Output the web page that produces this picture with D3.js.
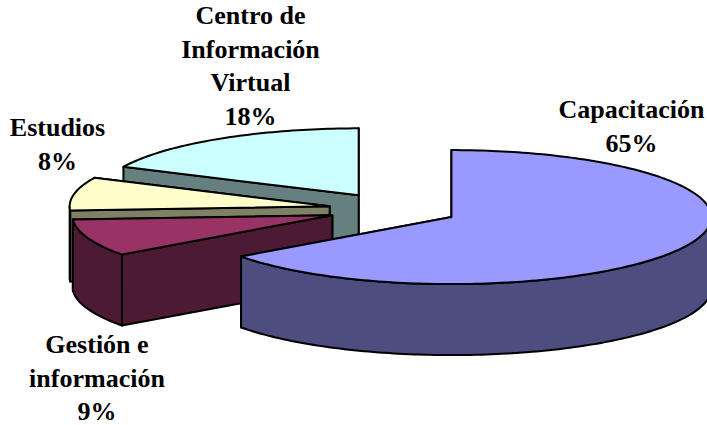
<!DOCTYPE html>
<html>
<head>
<meta charset="utf-8">
<script src="https://cdn.jsdelivr.net/npm/d3@7"></script>
<style>
  html, body { margin: 0; padding: 0; background: #fff; overflow: hidden; }
  text { font-family: "Liberation Serif", serif; font-weight: bold; font-size: 26px; fill: #000; }
</style>
</head>
<body>
<div id="chart"></div>
<script>
// --- Data
const categories = ["Capacitación", "Gestión e información", "Estudios", "Centro de Información Virtual"];
const shares = [65, 9, 8, 18];
const topColors = ["#9999ff", "#993366", "#ffffcc", "#ccffff"];
const sideColors = ["#4d4d80", "#4d1a33", "#808066", "#668080"];
const labelLines = [
  ["Capacitación"],
  ["Gestión e", "información"],
  ["Estudios"],
  ["Centro de", "Información", "Virtual"]
];
const labelPos = [[631.5, 118], [97, 353], [57.5, 136], [250.5, 24]];

const W = 707, H = 425;
const cx = 393.5, cy = 209.5;   // pie centre before the slices are pulled out
const rx = 260, ry = 67, depth = 71;
const explode = 0.25;

const svg = d3.select("#chart").append("svg").attr("width", W).attr("height", H);

const arcs = d3.pie().sort(null).value(d => d)(shares);

// point on the rim, angle measured clockwise from the top
const px = a => Math.sin(a) * rx;
const py = a => -Math.cos(a) * ry;

const rimLine = d3.line();
function rimPoints(a0, a1, ox, oy, dy) {
  const n = Math.max(2, Math.ceil((a1 - a0) / 0.02));
  return d3.range(n + 1).map(i => {
    const a = a0 + (a1 - a0) * i / n;
    return [ox + px(a), oy + py(a) + dy];
  });
}

function drawFace(points, fill) {
  svg.append("path")
    .attr("d", rimLine(points) + "Z")
    .attr("fill", fill)
    .attr("stroke", "#000")
    .attr("stroke-width", 2)
    .attr("stroke-linejoin", "round");
}

// painter's order: back slices first, the big one on top
[3, 2, 1, 0].forEach(i => {
  const a = arcs[i];
  const mid = (a.startAngle + a.endAngle) / 2;
  const ox = cx + explode * px(mid);
  const oy = cy + explode * py(mid);

  // cut faces
  [a.endAngle, a.startAngle].forEach(ang => {
    const rim = [ox + px(ang), oy + py(ang)];
    drawFace([[ox, oy], rim, [rim[0], rim[1] + depth], [ox, oy + depth]], sideColors[i]);
  });

  // outer wall, only the part facing us
  const w0 = Math.max(a.startAngle, Math.PI / 2);
  const w1 = Math.min(a.endAngle, Math.PI * 1.5);
  if (w1 > w0) {
    drawFace(
      rimPoints(w0, w1, ox, oy, 0).concat(rimPoints(w0, w1, ox, oy, depth).reverse()),
      sideColors[i]
    );
  }

  // top
  drawFace([[ox, oy]].concat(rimPoints(a.startAngle, a.endAngle, ox, oy, 0)), topColors[i]);
});

// labels
const lineH = 33.5;
categories.forEach((c, i) => {
  const lines = labelLines[i].concat([shares[i] + "%"]);
  const t = svg.append("text").attr("text-anchor", "middle");
  lines.forEach((l, j) => {
    t.append("tspan")
      .attr("x", labelPos[i][0])
      .attr("y", labelPos[i][1] + j * lineH)
      .text(l);
  });
});
</script>
</body>
</html>
